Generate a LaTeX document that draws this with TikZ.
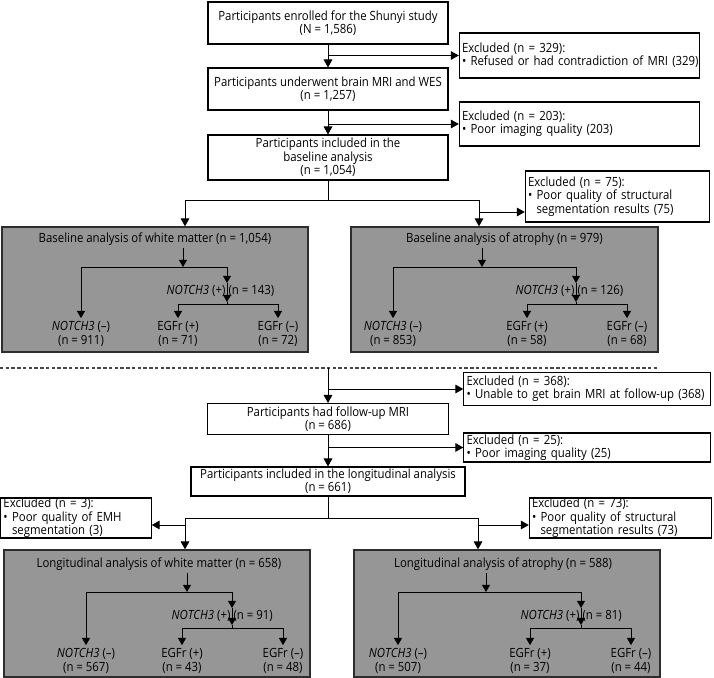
\documentclass[tikz,border=0pt]{standalone}
\usepackage{fontspec}
\setmainfont{Open Sans}[FakeStretch=0.9]
\usetikzlibrary{arrows.meta,calc}
\definecolor{boxgray}{RGB}{150,150,150}
\definecolor{edgegray}{RGB}{45,45,45}
\definecolor{dashgray}{RGB}{70,70,70}
\hbadness=10000 \hfuzz=20pt
\begin{document}
\begin{tikzpicture}[x=0.75pt,y=-0.75pt,
  every node/.style={font=\fontsize{9.5}{10}\selectfont},
  arr/.style={-{Triangle[length=6pt,width=6.5pt]}, line width=0.75pt},
  iarr/.style={-{Triangle[length=5.4pt,width=6pt]}, line width=0.75pt},
  ln/.style={line width=0.75pt},
  wbox/.style={draw=black, line width=0.8pt, fill=white, align=center, inner sep=0pt},
  xbox/.style={draw=black, line width=0.8pt, fill=white, align=left, inner xsep=2pt, inner ysep=0pt},
  gbox/.style={draw=edgegray, line width=1pt, fill=boxgray, inner sep=0pt},
  lab/.style={align=center, inner sep=2.5pt},
  hl/.style={inner xsep=1pt, inner ysep=1.5pt}
]
\useasboundingbox (0,0) rectangle (714,678);

% ---------- baseline column ----------
\node[wbox, minimum width={240*0.75pt}, minimum height={42*0.75pt}] (b1) at (328,23)
  {Participants enrolled for the Shunyi study\\(N = 1,586)};
\node[wbox, minimum width={240*0.75pt}, minimum height={42*0.75pt}] (b2) at (328,89)
  {Participants underwent brain MRI and WES\\(n = 1,257)};
\node[wbox, minimum width={240*0.75pt}, minimum height={45*0.75pt}] (b3) at (328,157.5)
  {Participants included in the\\baseline analysis\\(n = 1,054)};

\node[xbox, text width={235*0.75pt}, minimum height={45*0.75pt}] (e1) at (579.5,55.5)
  {\mbox{Excluded (n = 329):}\\\mbox{• Refused or had contradiction of MRI (329)}};
\node[xbox, text width={235*0.75pt}, minimum height={44*0.75pt}] (e2) at (579.5,124)
  {\mbox{Excluded (n = 203):}\\\mbox{• Poor imaging quality (203)}};
\node[xbox, text width={179*0.75pt}, minimum height={51*0.75pt}] (e3) at (617.5,196.5)
  {\mbox{Excluded (n = 75):}\\\mbox{• Poor quality of structural}\\\mbox{\phantom{• }segmentation results (75)}};

\draw[arr] (b1) -- (b2);
\draw[arr] (b1.south |- e1.west) -- (e1.west);
\draw[arr] (b2) -- (b3);
\draw[arr] (b2.south |- e2.west) -- (e2.west);

\coordinate (sp0) at (328,200);
\coordinate (spL) at (185,200);
\coordinate (spR) at (479,200);
\coordinate (br3) at (479,212);
\draw[ln] (b3.south) -- (sp0);
\draw[ln] (spL) -- (spR);

% gray boxes (baseline)
\node[gbox, minimum width={306*0.75pt}, minimum height={125*0.75pt}] (g1) at (155,289.5) {};
\node[gbox, minimum width={307*0.75pt}, minimum height={125*0.75pt}] (g2) at (504.5,289.5) {};
\draw[arr] (spL) -- (spL |- g1.north);
\draw[arr] (spR) -- (spR |- g2.north);
\draw[arr] (br3) -- (br3 -| e3.west);

% inner of g1
\node[hl] (t1) at (155,239) {Baseline analysis of white matter (n = 1,054)};
\coordinate (a1) at (183,267);
\coordinate (a1L) at (81,267);
\coordinate (a1R) at (227,267);
\coordinate (m1) at (227,283);
\coordinate (m1b) at (227,302);
\coordinate (c1) at (227,304);
\coordinate (c1L) at (178,304);
\coordinate (c1R) at (278,304);
\draw[iarr] (t1.south -| a1) -- (a1);
\draw[ln] (a1L) -- (a1R);
\node[lab] (r1a) at (81,334) {\textit{NOTCH3} (–)\\(n = 911)};
\node[lab] (r1b) at (178,334) {EGFr (+)\\(n = 71)};
\node[lab] (r1c) at (278,334) {EGFr (–)\\(n = 72)};
\draw[iarr] (a1L) -- (a1L |- r1a.north);
\draw[iarr] (a1R) -- (m1);
\draw[iarr] (m1) -- (m1b);
\draw[ln] (m1b) -- (c1);
\node[anchor=east, inner xsep=1pt] (n1p) at (227,291) {\textit{NOTCH3} (+)};
\node[anchor=west, inner xsep=1pt] (n1c) at (227,291) {(n = 143)};
\draw[ln] (c1L) -- (c1R);
\draw[iarr] (c1L) -- (c1L |- r1b.north);
\draw[iarr] (c1R) -- (c1R |- r1c.north);

% inner of g2
\node[hl] (t2) at (504.5,239) {Baseline analysis of atrophy (n = 979)};
\coordinate (a2) at (482,267);
\coordinate (a2L) at (393,267);
\coordinate (a2R) at (576,267);
\coordinate (m2) at (576,283);
\coordinate (m2b) at (576,302);
\coordinate (c2) at (576,304);
\coordinate (c2L) at (527,304);
\coordinate (c2R) at (627,304);
\draw[iarr] (t2.south -| a2) -- (a2);
\draw[ln] (a2L) -- (a2R);
\node[lab] (r2a) at (393,334) {\textit{NOTCH3} (–)\\(n = 853)};
\node[lab] (r2b) at (527,334) {EGFr (+)\\(n = 58)};
\node[lab] (r2c) at (627,334) {EGFr (–)\\(n = 68)};
\draw[iarr] (a2L) -- (a2L |- r2a.north);
\draw[iarr] (a2R) -- (m2);
\draw[iarr] (m2) -- (m2b);
\draw[ln] (m2b) -- (c2);
\node[anchor=east, inner xsep=1pt] (n2p) at (576,291) {\textit{NOTCH3} (+)};
\node[anchor=west, inner xsep=1pt] (n2c) at (576,291) {(n = 126)};
\draw[ln] (c2L) -- (c2R);
\draw[iarr] (c2L) -- (c2L |- r2b.north);
\draw[iarr] (c2R) -- (c2R |- r2c.north);

% ---------- dashed separator ----------
\coordinate (d0) at (0,368);
\coordinate (d1) at (658,368);
\draw[dashgray, line width=0.8pt, dash pattern=on 2.6pt off 1.7pt] (d0) -- (d1);

% ---------- longitudinal column ----------
\coordinate (dv) at (328,368);
\node[wbox, minimum width={241*0.75pt}, minimum height={31*0.75pt}] (b4) at (328,419)
  {Participants had follow-up MRI\\(n = 686)};
\node[xbox, text width={241*0.75pt}, minimum height={33*0.75pt}] (e4) at (587,389)
  {\mbox{Excluded (n = 368):}\\\mbox{• Unable to get brain MRI at follow-up (368)}};
\node[xbox, text width={241*0.75pt}, minimum height={29*0.75pt}] (e5) at (587,447.5)
  {\mbox{Excluded (n = 25):}\\\mbox{• Poor imaging quality (25)}};
\node[wbox, minimum width={274*0.75pt}, minimum height={29*0.75pt}] (b5) at (328,481.5)
  {Participants included in the longitudinal analysis\\(n = 661)};
\draw[arr] (dv) -- (b4.north);
\draw[arr] (dv |- e4.west) -- (e4.west);
\draw[arr] (b4) -- (b5);
\draw[arr] (b4.south |- e5.west) -- (e5.west);

\node[xbox, text width={145*0.75pt}, minimum height={40*0.75pt}] (e6) at (76,518)
  {\mbox{Excluded (n = 3):}\\\mbox{• Poor quality of EMH}\\\mbox{\phantom{• }segmentation (3)}};
\node[xbox, text width={177*0.75pt}, minimum height={40*0.75pt}] (e7) at (620.5,518)
  {\mbox{Excluded (n = 73):}\\\mbox{• Poor quality of structural}\\\mbox{\phantom{• }segmentation results (73)}};

\coordinate (sq0) at (328,518);
\coordinate (sqL) at (185,518);
\coordinate (sqR) at (478,518);
\coordinate (brL) at (185,525);
\coordinate (brR) at (478,525);
\draw[ln] (b5.south) -- (sq0);
\draw[ln] (sqL) -- (sqR);

\node[gbox, minimum width={306*0.75pt}, minimum height={127*0.75pt}] (g3) at (157,613.5) {};
\node[gbox, minimum width={306*0.75pt}, minimum height={127*0.75pt}] (g4) at (507,613.5) {};
\draw[arr] (sqL) -- (sqL |- g3.north);
\draw[arr] (sqR) -- (sqR |- g4.north);
\draw[arr] (brL) -- (brL -| e6.east);
\draw[arr] (brR) -- (brR -| e7.west);

% inner of g3
\node[hl] (t3) at (159,564) {Longitudinal analysis of white matter (n = 658)};
\coordinate (a3) at (187,592);
\coordinate (a3L) at (86,592);
\coordinate (a3R) at (232,592);
\coordinate (m3) at (232,608);
\coordinate (m3b) at (232,625);
\coordinate (c3) at (232,628);
\coordinate (c3L) at (182,628);
\coordinate (c3R) at (283,628);
\draw[iarr] (t3.south -| a3) -- (a3);
\draw[ln] (a3L) -- (a3R);
\node[lab] (r3a) at (86,661) {\textit{NOTCH3} (–)\\(n = 567)};
\node[lab] (r3b) at (182,661) {EGFr (+)\\(n = 43)};
\node[lab] (r3c) at (283,661) {EGFr (–)\\(n = 48)};
\draw[iarr] (a3L) -- (a3L |- r3a.north);
\draw[iarr] (a3R) -- (m3);
\draw[iarr] (m3) -- (m3b);
\draw[ln] (m3b) -- (c3);
\node[anchor=east, inner xsep=1pt] (n3p) at (232,616) {\textit{NOTCH3} (+)};
\node[anchor=west, inner xsep=1pt] (n3c) at (232,616) {(n = 91)};
\draw[ln] (c3L) -- (c3R);
\draw[iarr] (c3L) -- (c3L |- r3b.north);
\draw[iarr] (c3R) -- (c3R |- r3c.north);

% inner of g4
\node[hl] (t4) at (503,564) {Longitudinal analysis of atrophy (n = 588)};
\coordinate (a4) at (486,592);
\coordinate (a4L) at (398,592);
\coordinate (a4R) at (581,592);
\coordinate (m4) at (581,608);
\coordinate (m4b) at (581,625);
\coordinate (c4) at (581,628);
\coordinate (c4L) at (530,628);
\coordinate (c4R) at (631,628);
\draw[iarr] (t4.south -| a4) -- (a4);
\draw[ln] (a4L) -- (a4R);
\node[lab] (r4a) at (398,661) {\textit{NOTCH3} (–)\\(n = 507)};
\node[lab] (r4b) at (530,661) {EGFr (+)\\(n = 37)};
\node[lab] (r4c) at (631,661) {EGFr (–)\\(n = 44)};
\draw[iarr] (a4L) -- (a4L |- r4a.north);
\draw[iarr] (a4R) -- (m4);
\draw[iarr] (m4) -- (m4b);
\draw[ln] (m4b) -- (c4);
\node[anchor=east, inner xsep=1pt] (n4p) at (581,616) {\textit{NOTCH3} (+)};
\node[anchor=west, inner xsep=1pt] (n4c) at (581,616) {(n = 81)};
\draw[ln] (c4L) -- (c4R);
\draw[iarr] (c4L) -- (c4L |- r4b.north);
\draw[iarr] (c4R) -- (c4R |- r4c.north);
\end{tikzpicture}
\end{document}
